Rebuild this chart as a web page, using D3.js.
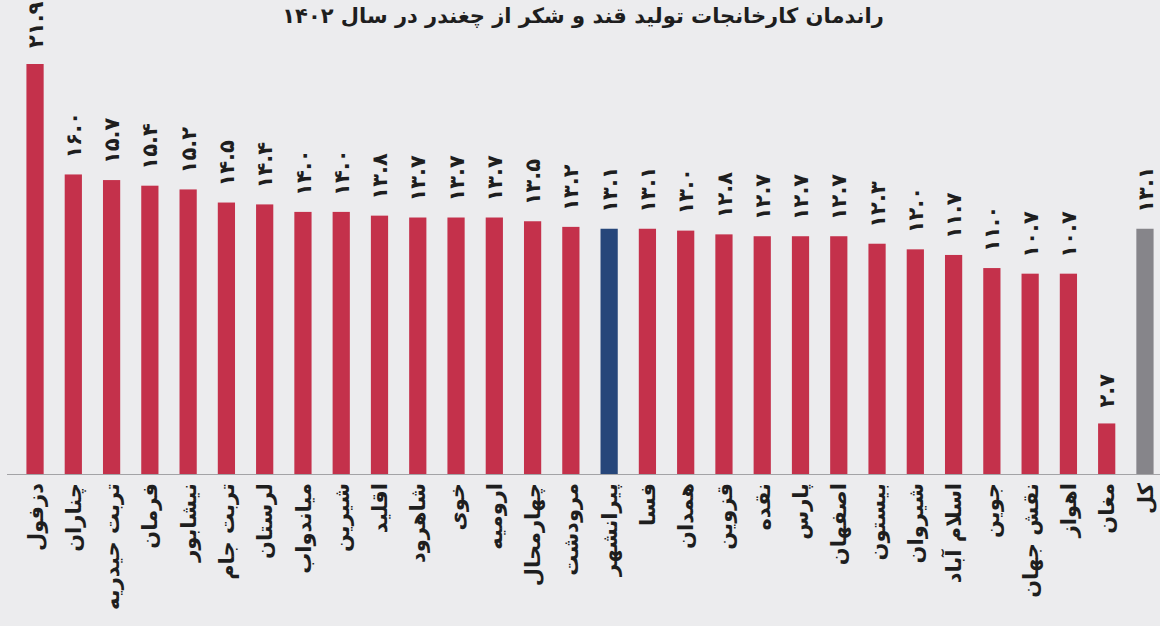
<!DOCTYPE html>
<html>
<head>
<meta charset="utf-8">
<script src="https://cdn.jsdelivr.net/npm/d3@7"></script>
<style>
  body { margin: 0; background: #ececee; }
  svg { display: block; }
  text { font-family: "DejaVu Sans", "Noto Sans", sans-serif; fill: #1e1e1e; }
</style>
</head>
<body>
<div id="chart"></div>
<script>
'use strict';

var titleText = 'راندمان کارخانجات تولید قند و شکر از چغندر در سال ۱۴۰۲';

var factories = ['دزفول', 'چناران', 'تربت حیدریه', 'فرمان', 'نیشابور', 'تربت جام', 'لرستان', 'میاندواب',
  'شیرین', 'اقلید', 'شاهرود', 'خوی', 'ارومیه', 'چهارمحال', 'مرودشت', 'پیرانشهر', 'فسا', 'همدان',
  'قزوین', 'نقده', 'پارس', 'اصفهان', 'بیستون', 'شیروان', 'اسلام آباد', 'جوین', 'نقش جهان', 'اهواز',
  'مغان', 'کل'];

var efficiency = [21.9, 16.0, 15.7, 15.4, 15.2, 14.5, 14.4, 14.0, 14.0, 13.8, 13.7, 13.7, 13.7, 13.5,
  13.2, 13.1, 13.1, 13.0, 12.8, 12.7, 12.7, 12.7, 12.3, 12.0, 11.7, 11.0, 10.7, 10.7, 2.7, 13.1];

var highlight = 'پیرانشهر';
var totalName = 'کل';

var chart = {};
chart.w = 1160;
chart.h = 626;
chart.baseY = 474;

chart.red = '#c4314b';
chart.blue = '#26467a';
chart.gray = '#86858a';

function toPersian(v) {
  var fa = '۰۱۲۳۴۵۶۷۸۹';
  return v.toFixed(1).replace(/[0-9]/g, function (d) { return fa[+d]; });
}

var data = factories.map(function (n, i) { return {name: n, value: efficiency[i]}; });

var svg = d3.select('#chart').append('svg')
  .attr('width', chart.w)
  .attr('height', chart.h);

svg.append('rect')
  .attr('width', chart.w).attr('height', chart.h)
  .attr('fill', '#ececee');

var xScale = d3.scaleBand()
  .domain(factories)
  .range([15.9, 1164.1])
  .paddingInner(0.55)
  .paddingOuter(0.275);

var yScale = d3.scaleLinear()
  .domain([0, 21.9])
  .range([chart.baseY, 64]);

// title
svg.append('text')
  .attr('x', 583)
  .attr('y', 23)
  .attr('text-anchor', 'middle')
  .style('font-size', '21px')
  .style('font-weight', 'bold')
  .text(titleText);

// bars
svg.selectAll('.bar')
  .data(data)
  .enter()
  .append('rect')
  .attr('class', 'bar')
  .attr('x', function (d) { return xScale(d.name); })
  .attr('y', function (d) { return yScale(d.value); })
  .attr('width', xScale.bandwidth())
  .attr('height', function (d) { return chart.baseY - yScale(d.value); })
  .attr('fill', function (d) {
    if (d.name === highlight) return chart.blue;
    if (d.name === totalName) return chart.gray;
    return chart.red;
  });

// baseline
svg.append('line')
  .attr('x1', 7).attr('x2', chart.w)
  .attr('y1', chart.baseY + 0.5).attr('y2', chart.baseY + 0.5)
  .attr('stroke', '#a3a3a6')
  .attr('stroke-width', 1);

// value labels
svg.selectAll('.val')
  .data(data)
  .enter()
  .append('text')
  .attr('class', 'val')
  .attr('text-anchor', 'start')
  .attr('dy', '0.36em')
  .attr('transform', function (d) {
    var cx = xScale(d.name) + xScale.bandwidth() / 2;
    return 'translate(' + cx + ',' + (yScale(d.value) - 16) + ') rotate(-90)';
  })
  .style('font-size', '21px')
  .style('letter-spacing', '1px')
  .style('font-weight', 'bold')
  .text(function (d) { return toPersian(d.value); });

// category labels
svg.selectAll('.cat')
  .data(data)
  .enter()
  .append('text')
  .attr('class', 'cat')
  .attr('text-anchor', 'end')
  .attr('dy', '0.36em')
  .attr('transform', function (d) {
    var cx = xScale(d.name) + xScale.bandwidth() / 2;
    return 'translate(' + cx + ',' + (chart.baseY + 9) + ') rotate(-90)';
  })
  .style('font-size', '21px')
  .style('font-weight', 'bold')
  .text(function (d) { return d.name; });
</script>
</body>
</html>
